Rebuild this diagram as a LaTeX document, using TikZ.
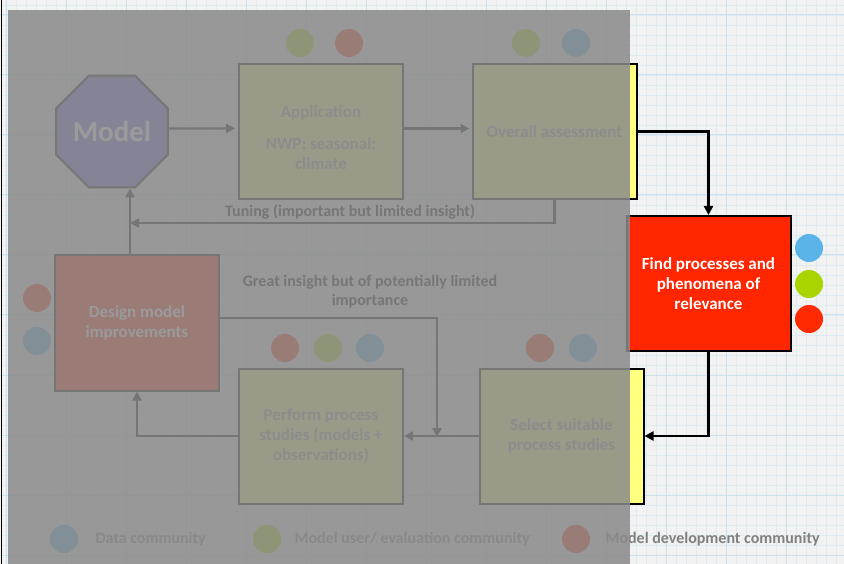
\documentclass[tikz,border=0pt]{standalone}
\usepackage{fontspec}
\setmainfont{Carlito}
\usepackage{tikz}
\usetikzlibrary{shapes.geometric, arrows.meta}

\definecolor{slidebg}{RGB}{242,242,242}
\definecolor{gridminor}{RGB}{222,235,241}
\definecolor{gridmajor}{RGB}{204,225,235}
\definecolor{stageyellow}{RGB}{255,255,128}
\definecolor{stagered}{RGB}{255,38,0}
\definecolor{modelblue}{RGB}{108,100,230}
\definecolor{dotblue}{RGB}{90,180,232}
\definecolor{dotgreen}{RGB}{170,212,0}
\definecolor{dotred}{RGB}{255,42,0}
\definecolor{veil}{RGB}{138,138,138}

\tikzset{
  stage/.style={draw=black, line width=2pt, minimum width=164pt, minimum height=135pt,
    inner sep=0pt, align=center, text=gray!80, font=\bfseries\fontsize{17}{20}\selectfont},
  dot/.style={circle, minimum size=28pt, inner sep=0pt},
  flow/.style={line width=2.3pt, -{Triangle[length=9pt,width=9pt]}},
  note/.style={align=center, font=\bfseries\fontsize{16}{19}\selectfont},
  legend/.style={anchor=west, text=gray, font=\bfseries\fontsize{16}{19}\selectfont}
}

\begin{document}
\begin{tikzpicture}[x=1pt, y=-1pt]
 \useasboundingbox (0,0) rectangle (844,564);
 % graph paper
 \fill[slidebg] (0,0) rectangle (844,564);
 \foreach \x in {6.7,16.7,...,844} \draw[gridminor, line width=0.6pt] (\x,0) -- (\x,564);
 \foreach \y in {5,15,...,564} \draw[gridminor, line width=0.6pt] (0,\y) -- (844,\y);
 \foreach \x in {6.7,66.7,...,844} \draw[gridmajor, line width=1pt] (\x,0) -- (\x,564);
 \foreach \y in {15,75,...,564} \draw[gridmajor, line width=1pt] (0,\y) -- (844,\y);

 % stages
 \node[regular polygon, regular polygon sides=8, minimum size=121pt, inner sep=0pt,
   fill=modelblue, draw=black, line width=2pt, text=white,
   font=\bfseries\fontsize{29}{32}\selectfont] (model) at (112,131.5) {Model};
 \node[stage, fill=stageyellow] (app) at (321,131.5) {};
 \node[stage, draw=none] (apptext) at (321,138) {Application\\[12pt]NWP; seasonal;\\climate};
 \node[stage, fill=stageyellow] (overall) at (554.5,131.5) {Overall assessment};
 \node[stage, fill=stagered, text=white] (design) at (137,323) {Design model\\improvements};
 \node[stage, fill=stageyellow] (perform) at (321,436) {Perform process\\studies (models +\\observations)};
 \node[stage, fill=stageyellow] (select) at (561.5,436) {Select suitable\\process studies};
 \node[stage, fill=stagered, text=white] (find) at (708.5,283.5) {Find processes and\\phenomena of\\relevance};

 % communities
 \node[dot, fill=dotgreen] (appgreen) at (300,43) {};
 \node[dot, fill=dotred] (appred) at (349,43) {};
 \node[dot, fill=dotgreen] (overallgreen) at (526,43) {};
 \node[dot, fill=dotblue] (overallblue) at (576,43) {};
 \node[dot, fill=dotred] (designred) at (37,298) {};
 \node[dot, fill=dotblue] (designblue) at (37,341) {};
 \node[dot, fill=dotred] (performred) at (285,348) {};
 \node[dot, fill=dotgreen] (performgreen) at (328,348) {};
 \node[dot, fill=dotblue] (performblue) at (370,348) {};
 \node[dot, fill=dotred] (selectred) at (540,348) {};
 \node[dot, fill=dotblue] (selectblue) at (583,348) {};
 \node[dot, fill=dotblue] (findblue) at (809,248) {};
 \node[dot, fill=dotgreen] (findgreen) at (809,284) {};
 \node[dot, fill=dotred] (findred) at (809,319) {};

 % connectors
 \coordinate (tune) at (130,223);
 \coordinate (great) at (437,437);
 \draw[flow, shorten >=3pt] ([yshift=3pt]model.east) -- ([yshift=3pt]app.west);
 \draw[flow, shorten >=2pt] ([yshift=3pt]app.east) -- ([yshift=3pt]overall.west);
 \draw[flow] (overall.south) |- (tune);
 \draw[flow] (design.north -| tune) -- (tune |- model.south);
 \draw[flow] ([yshift=5pt]design.east) -| (great);
 \draw[flow] (select.west) -- (perform.east);
 \draw[flow] (perform.west) -| (design.south);
 \draw[flow] (overall.east) -| (find.north);
 \draw[flow] (find.south) |- (select.east);

 \node[note] (tuning) at (350,212) {Tuning (important but limited insight)};
 \node[note] (insight) at (370,292) {Great insight but of potentially limited\\importance};

 % legend
 \node[dot, fill=dotblue] (datadot) at (64,539) {};
 \node[legend] (datatext) at (92,539) {Data community};
 \node[dot, fill=dotgreen] (userdot) at (267,539) {};
 \node[legend] (usertext) at (291,539) {Model user/ evaluation community};
 \node[dot, fill=dotred] (devdot) at (576,539) {};
 \node[legend] (devtext) at (602,539) {Model development community};

 % veil over the left part
 \fill[veil, opacity=0.86] (8,10) rectangle (630,564);
 \draw[black, line width=1.5pt] (1.5,0) -- (1.5,564);
\end{tikzpicture}
\end{document}
